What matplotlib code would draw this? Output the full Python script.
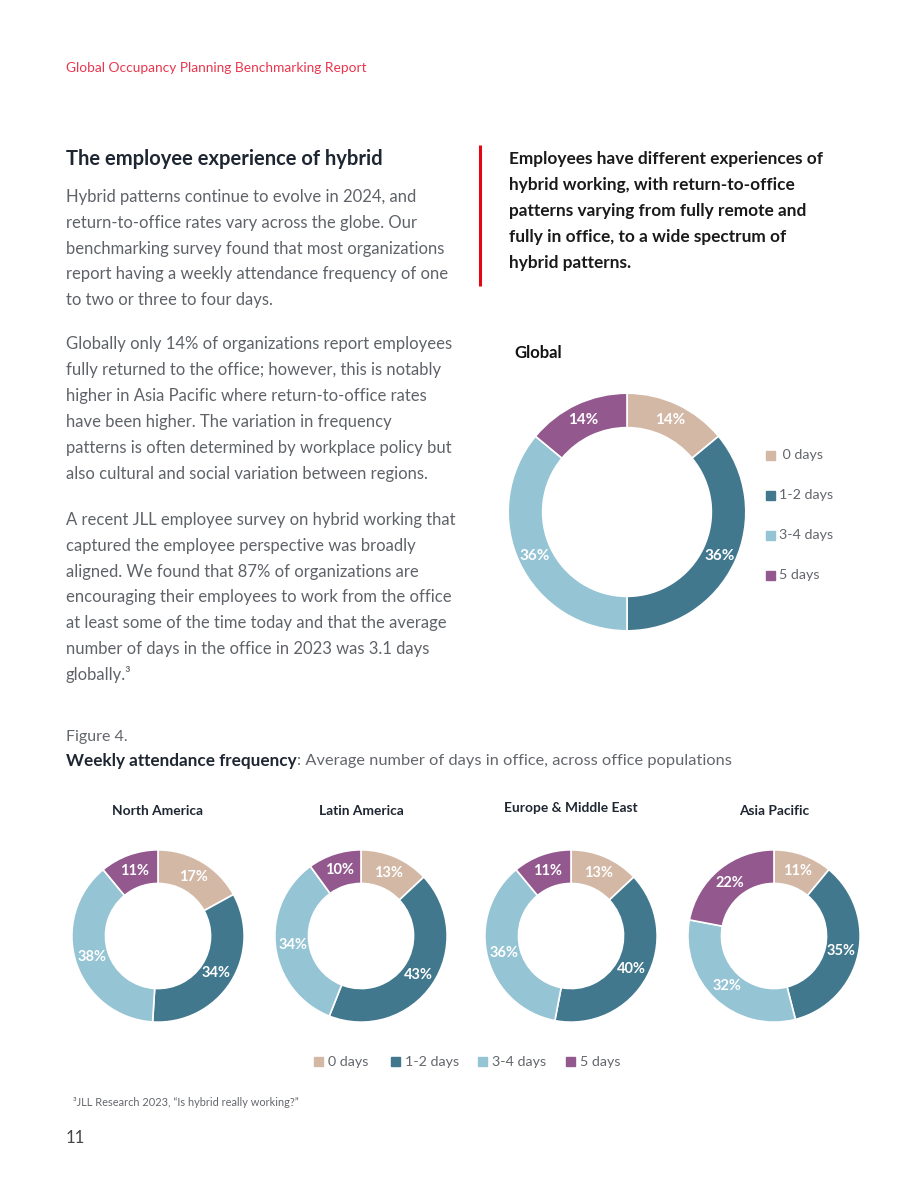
import matplotlib
matplotlib.use("Agg")
import matplotlib.pyplot as plt

W, H = 920, 1191
FONT = ["Lato", "DejaVu Sans"]
plt.rcParams['font.family'] = FONT

categories = ["0 days", "1-2 days", "3-4 days", "5 days"]
global_values = [14, 36, 36, 14]
regions = ["North America", "Latin America", "Europe & Middle East", "Asia Pacific"]
north_america = [17, 34, 38, 11]
latin_america = [13, 43, 34, 10]
europe_me = [13, 40, 36, 11]
asia_pacific = [11, 35, 32, 22]
colors = ["#D3B8A6", "#41788E", "#95C4D4", "#93598F"]

para1 = ["Hybrid patterns continue to evolve in 2024, and",
         "return-to-office rates vary across the globe. Our",
         "benchmarking survey found that most organizations",
         "report having a weekly attendance frequency of one",
         "to two or three to four days."]
para2 = ["Globally only 14% of organizations report employees",
         "fully returned to the office; however, this is notably",
         "higher in Asia Pacific where return-to-office rates",
         "have been higher. The variation in frequency",
         "patterns is often determined by workplace policy but",
         "also cultural and social variation between regions."]
para3 = ["A recent JLL employee survey on hybrid working that",
         "captured the employee perspective was broadly",
         "aligned. We found that 87% of organizations are",
         "encouraging their employees to work from the office",
         "at least some of the time today and that the average",
         "number of days in the office in 2023 was 3.1 days",
         "globally.\u00b3"]
quote = ["Employees have different experiences of",
         "hybrid working, with return-to-office",
         "patterns varying from fully remote and",
         "fully in office, to a wide spectrum of",
         "hybrid patterns."]

fig = plt.figure(figsize=(W / 100, H / 100), dpi=100)
bg = fig.add_axes([0, 0, 1, 1])
bg.set_xlim(0, W)
bg.set_ylim(H, 0)
bg.axis('off')

BODY = "#5f6368"
DARK = "#1e2632"
GRAY = "#63666b"

def txt(x, y, s, **kw):
    kw.setdefault('va', 'center')
    return bg.text(x, y, s, **kw)

txt(66, 68, "Global Occupancy Planning Benchmarking Report", color="#E8384F", fontsize=9.9)
txt(66, 159, "The employee experience of hybrid", color=DARK, fontsize=14.5, fontweight='bold')

BFS = 11.95
for i, line in enumerate(para1):
    txt(66, 197 + i * 25.8, line, color=BODY, fontsize=BFS)
for i, line in enumerate(para2):
    txt(66, 344 + i * 25.9, line, color=BODY, fontsize=BFS)
for i, line in enumerate(para3):
    txt(66, 520 + i * 25.8, line, color=BODY, fontsize=BFS)

bg.plot([480, 480], [145, 286], color="#E30613", lw=2.2, solid_capstyle='butt')
for i, line in enumerate(quote):
    txt(509, 159 + i * 26, line, color="#1a1a1a", fontsize=12.4, fontweight='bold')

txt(514, 353, "Global", color="#111111", fontsize=12, fontweight='bold')

def donut(cx, cy, r, values, width, pctdist, fs):
    ax = fig.add_axes([(cx - r) / W, 1 - (cy + r) / H, 2 * r / W, 2 * r / H])
    ax.pie(values, colors=colors, startangle=90, counterclock=False, radius=1,
           wedgeprops=dict(width=width, edgecolor='white', linewidth=1.2),
           autopct=lambda p: f"{p:.0f}%", pctdistance=pctdist,
           textprops=dict(color='white', fontsize=fs, fontweight='bold'))
    ax.set_xlim(-1.01, 1.01)
    ax.set_ylim(-1.01, 1.01)
    ax.axis('off')
    return ax

donut(627, 512, 120, global_values, 0.29, 0.86, 11)

# right legend for global
for i, c in enumerate(categories):
    y = 455 + i * 40
    bg.add_patch(plt.Rectangle((766, y - 4.5), 9, 9, color=colors[i]))
    label = (" " + c) if i == 0 else c
    txt(779, y, label, color=GRAY, fontsize=10.3)

txt(66, 737, "Figure 4.", color=GRAY, fontsize=11.5)
t1 = txt(66, 761, "Weekly attendance frequency", color=DARK, fontsize=12.3, fontweight='bold')
bg.annotate(": Average number of days in office, across office populations", xy=(1, 0.5),
            xycoords=t1, va='center', ha='left', color=GRAY, fontsize=11.8)

region_vals = [north_america, latin_america, europe_me, asia_pacific]
centers = [158, 361, 571, 774]
title_y = [811, 811, 808, 811]
for cx, name, vals, ty in zip(centers, regions, region_vals, title_y):
    txt(cx, ty, name, color=DARK, fontsize=9.9, fontweight='bold', ha='center')
    donut(cx, 936, 87, vals, 0.39, 0.80, 10.5)

legend_x = [314, 391, 478, 566]
for x, c, col in zip(legend_x, categories, colors):
    bg.add_patch(plt.Rectangle((x, 1057), 9, 9, color=col))
    txt(x + 14, 1062, c, color=GRAY, fontsize=10.3)

txt(73, 1103, "\u00b3JLL Research 2023, \u201cIs hybrid really working?\u201d", color=GRAY,
    fontsize=7.95)
txt(66, 1138, "11", color="#444444", fontsize=12)

fig.savefig("out.png", dpi=100)
